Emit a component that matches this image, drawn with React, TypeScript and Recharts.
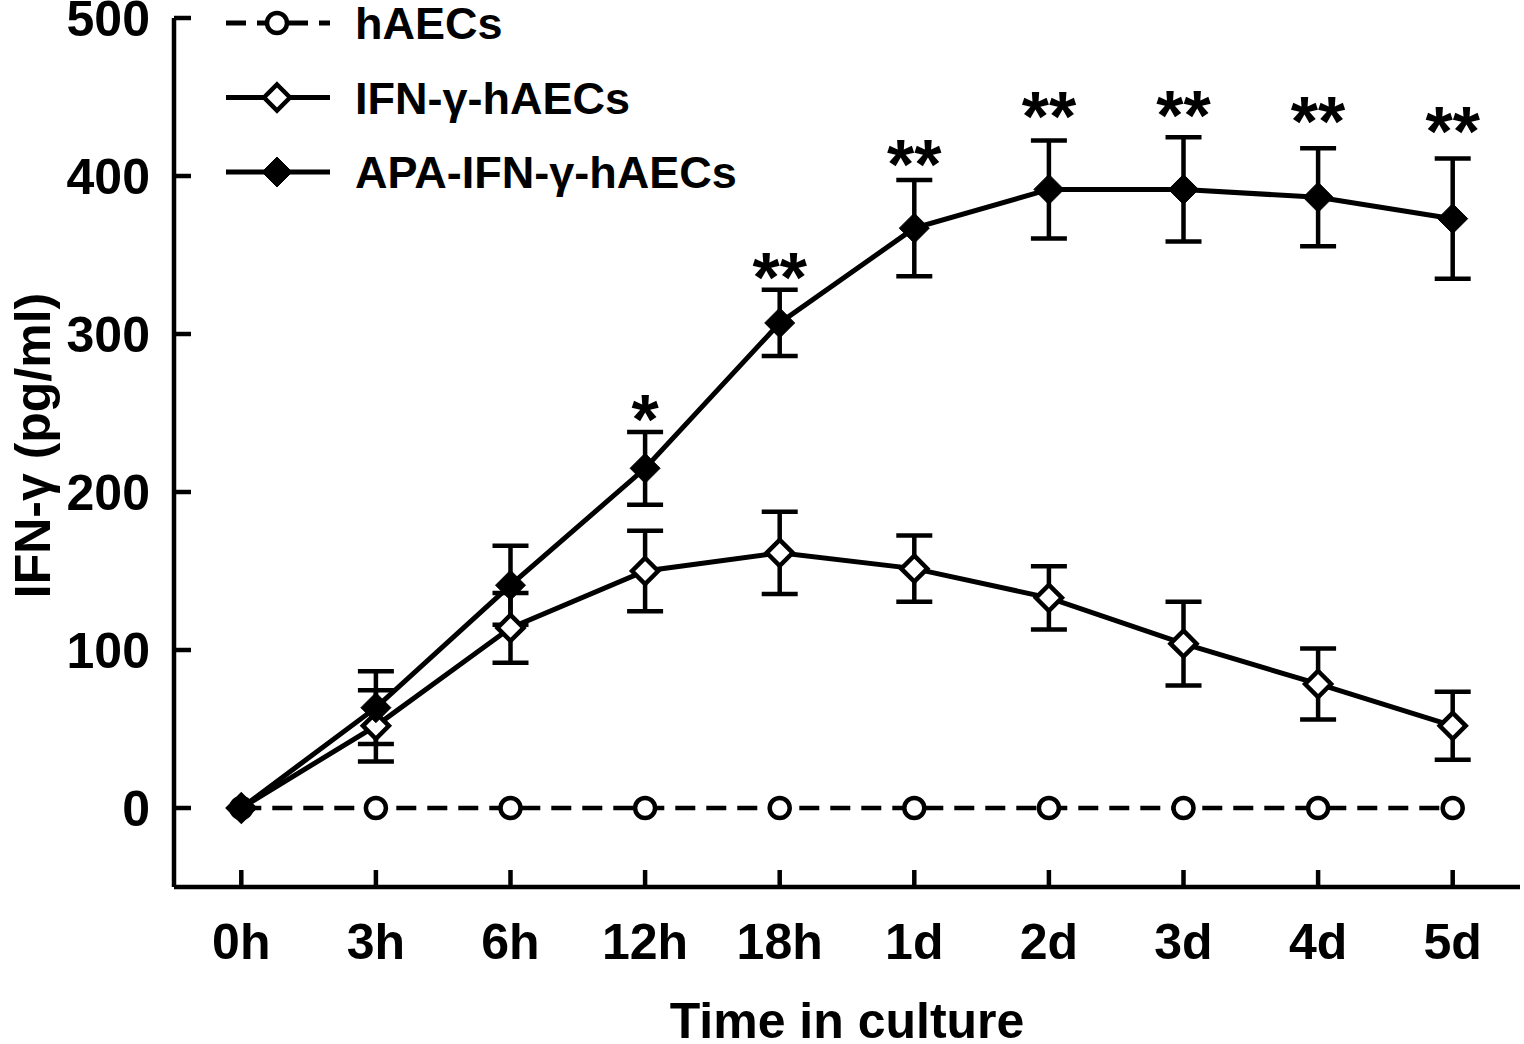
import { LineChart, Line, XAxis, YAxis, ErrorBar, Legend, LabelList } from 'recharts';

const FONT = '"Liberation Sans", Arial, sans-serif';

// time points (x axis categories)
const TIME_LABELS = ['0h', '3h', '6h', '12h', '18h', '1d', '2d', '3d', '4d', '5d'];

// IFN-γ (pg/ml), mean and SD
const HAEC_MEAN = [0, 0, 0, 0, 0, 0, 0, 0, 0, 0];
const IFN_MEAN = [0, 52, 114, 150, 161.5, 151.5, 133, 104, 78.5, 52];
const IFN_ERR = [0, 22.5, 22, 25.5, 26, 21, 20, 26.5, 22.5, 21.5];
const APA_MEAN = [0, 63.5, 141, 215, 307, 367, 391.5, 391.5, 386.5, 373];
const APA_ERR = [0, 23, 25, 23, 21, 30.5, 31, 33, 31, 38];

// significance marks and where they sit (in pg/ml)
const SIG_MARK = ['', '', '', '*', '**', '**', '**', '**', '**', '**'];
const SIG_POS = [null, null, null, 252, 341.5, 413, 443.5, 444, 440.5, 434];

const Y_TICKS = [0, 100, 200, 300, 400, 500];
const LEGEND_ORDER = ['haec', 'ifn', 'apa'];

const data = TIME_LABELS.map((label, i) => ({
  t: i,
  label,
  haec: HAEC_MEAN[i],
  ifn: IFN_MEAN[i],
  ifnErr: IFN_ERR[i],
  apa: APA_MEAN[i],
  apaErr: APA_ERR[i],
  sig: SIG_MARK[i],
  sigPos: SIG_POS[i],
}));

const drawCircle = (cx: number, cy: number, key?: string) => (
  <circle key={key} cx={cx} cy={cy} r={10} fill="#fff" stroke="#000" strokeWidth={4.5} />
);

const drawDiamond = (cx: number, cy: number, filled: boolean, key?: string) => {
  const r = filled ? 15 : 13;
  return (
    <path
      key={key}
      d={`M${cx},${cy - r} L${cx + r},${cy} L${cx},${cy + r} L${cx - r},${cy} Z`}
      fill={filled ? '#000' : '#fff'}
      stroke="#000"
      strokeWidth={filled ? 1 : 4.5}
      strokeLinejoin="miter"
    />
  );
};

const MARKERS: Record<string, (cx: number, cy: number, key?: string) => JSX.Element> = {
  haec: (cx, cy, key) => drawCircle(cx, cy, key),
  ifn: (cx, cy, key) => drawDiamond(cx, cy, false, key),
  apa: (cx, cy, key) => drawDiamond(cx, cy, true, key),
};

const dotFor = (k: string) => (p: any) => MARKERS[k](p.cx, p.cy, `${k}-${p.index}`);

const renderLegend = (props: any) => {
  const items = (props.payload || [])
    .filter((e: any) => MARKERS[e.dataKey])
    .sort((a: any, b: any) => LEGEND_ORDER.indexOf(a.dataKey) - LEGEND_ORDER.indexOf(b.dataKey));
  return (
    <svg width={800} height={210} style={{ display: 'block' }}>
      {items.map((e: any, i: number) => {
        const y = 23 + i * 74.5;
        return (
          <g key={e.dataKey}>
            <line
              x1={226}
              x2={330}
              y1={y}
              y2={y}
              stroke="#000"
              strokeWidth={5}
              strokeDasharray={e.dataKey === 'haec' ? '20 11' : undefined}
            />
            {MARKERS[e.dataKey](277, y)}
            <text x={355} y={y + 16} fontFamily={FONT} fontWeight="bold" fontSize={45} fill="#000">
              {e.value}
            </text>
          </g>
        );
      })}
    </svg>
  );
};

const renderSig = (p: any) => {
  if (!p.value) return null;
  return (
    <text
      key={`sig-${p.index}`}
      x={p.x}
      y={p.y + 34}
      textAnchor="middle"
      fontFamily={FONT}
      fontWeight="bold"
      fontSize={70}
      fill="#000"
    >
      {p.value}
    </text>
  );
};

const tickStyle = { fontFamily: FONT, fontWeight: 'bold', fontSize: 50, fill: '#000' };

export default function App() {
  return (
    <div style={{ position: 'absolute', left: 0, top: 0, width: 1524, height: 1044, background: '#fff' }}>
      <LineChart width={1524} height={1044} data={data} margin={{ top: 18, right: 4, bottom: 0, left: 0 }}>
        <XAxis
          dataKey="t"
          type="number"
          domain={[-0.5, 9.5]}
          ticks={data.map((d) => d.t)}
          tickFormatter={(v: number) => TIME_LABELS[v]}
          height={157}
          axisLine={{ stroke: '#000', strokeWidth: 4.5 }}
          tickLine={{ stroke: '#000', strokeWidth: 4.5 }}
          tickSize={-17}
          tickMargin={53}
          tick={tickStyle}
          interval={0}
          label={{
            content: (lp: any) => {
              const vb = lp.viewBox;
              return (
                <text
                  x={vb.x + vb.width / 2}
                  y={vb.y + vb.height - 6}
                  textAnchor="middle"
                  fontFamily={FONT}
                  fontWeight="bold"
                  fontSize={50}
                  fill="#000"
                >
                  Time in culture
                </text>
              );
            },
          }}
        />
        <YAxis
          type="number"
          domain={[-50, 500]}
          ticks={Y_TICKS}
          width={174}
          axisLine={{ stroke: '#000', strokeWidth: 4.5 }}
          tickLine={{ stroke: '#000', strokeWidth: 4.5 }}
          tickSize={-17}
          tickMargin={41}
          tick={tickStyle}
          interval={0}
          label={{
            content: (lp: any) => {
              const vb = lp.viewBox;
              const cx = 50;
              const cy = vb.y + vb.height / 2 - 7;
              return (
                <text
                  x={cx}
                  y={cy}
                  transform={`rotate(-90 ${cx} ${cy})`}
                  textAnchor="middle"
                  fontFamily={FONT}
                  fontWeight="bold"
                  fontSize={50}
                  fill="#000"
                >
                  IFN-γ (pg/ml)
                </text>
              );
            },
          }}
        />
        <Legend
          content={renderLegend}
          layout="horizontal"
          verticalAlign="middle"
          align="center"
          wrapperStyle={{ left: 0, top: 0, width: 800, height: 210 }}
        />
        <Line
          dataKey="haec"
          name="hAECs"
          stroke="#000"
          strokeWidth={4.5}
          strokeDasharray="20 11"
          dot={dotFor('haec')}
          activeDot={false}
          isAnimationActive={false}
        />
        <Line
          dataKey="ifn"
          name="IFN-γ-hAECs"
          stroke="#000"
          strokeWidth={5}
          dot={dotFor('ifn')}
          activeDot={false}
          isAnimationActive={false}
        >
          <ErrorBar dataKey="ifnErr" direction="y" width={18} stroke="#000" strokeWidth={4.5} />
        </Line>
        <Line
          dataKey="apa"
          name="APA-IFN-γ-hAECs"
          stroke="#000"
          strokeWidth={5}
          dot={dotFor('apa')}
          activeDot={false}
          isAnimationActive={false}
        >
          <ErrorBar dataKey="apaErr" direction="y" width={18} stroke="#000" strokeWidth={4.5} />
        </Line>
        <Line
          dataKey="sigPos"
          stroke="none"
          dot={false}
          activeDot={false}
          legendType="none"
          isAnimationActive={false}
        >
          <LabelList dataKey="sig" content={renderSig} />
        </Line>
      </LineChart>
    </div>
  );
}
